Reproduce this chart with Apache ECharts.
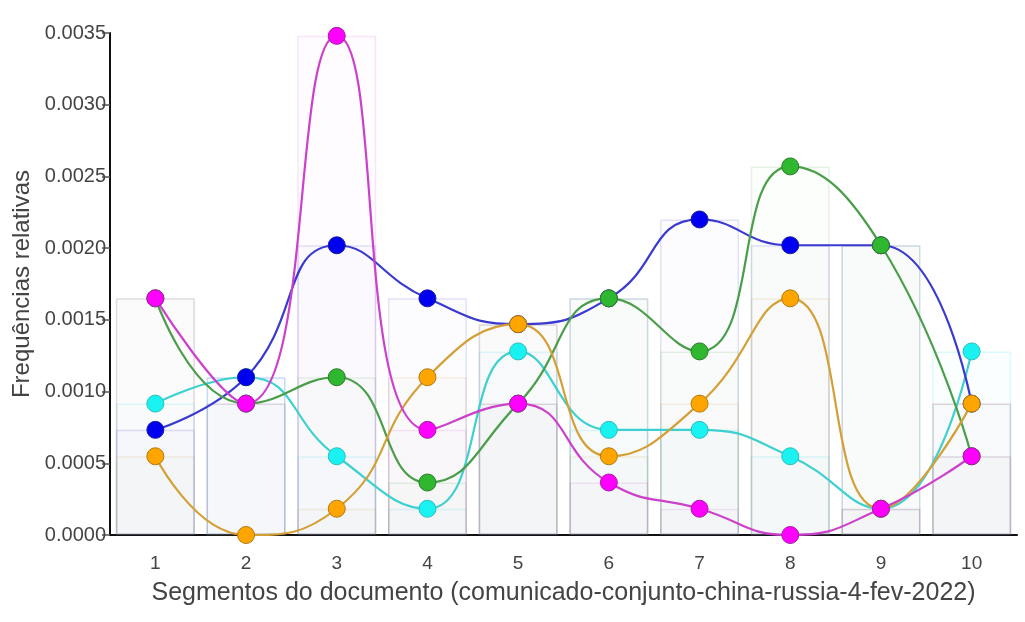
<!DOCTYPE html>
<html><head><meta charset="utf-8">
<script src="https://cdn.jsdelivr.net/npm/echarts@6/dist/echarts.min.js"></script>
<style>html,body{margin:0;padding:0;background:#fff}#c{width:1025px;height:622px}</style>
</head><body><div id="c"></div>
<script>
const categories = ['1','2','3','4','5','6','7','8','9','10'];
const cyanVals    = [0.000916,0.00110,0.000549,0.000183,0.00128,0.000733,0.000733,0.000549,0.000183,0.00128];
const blueVals    = [0.000733,0.00110,0.00202,0.00165,0.00147,0.00165,0.00220,0.00202,0.00202,0.000916];
const greenVals   = [0.00165,0.000916,0.00110,0.000366,0.000916,0.00165,0.00128,0.00257,0.00202,0.000549];
const orangeVals  = [0.000549,0,0.000183,0.00110,0.00147,0.000549,0.000916,0.00165,0.000183,0.000916];
const magentaVals = [0.00165,0.000916,0.00348,0.000733,0.000916,0.000366,0.000183,0,0.000183,0.000549];
const yTicks = [0,0.0005,0.001,0.0015,0.002,0.0025,0.003,0.0035];

const defs = [
  {name:'cyan', data:cyanVals, marker:'#1af2f2', border:'#2bbdbd', line:'#3cd0d0', rgb:'0,210,230'},
  {name:'blue', data:blueVals, marker:'#0000f0', border:'#1a1aa0', line:'#3a3ad0', rgb:'40,40,200'},
  {name:'green', data:greenVals, marker:'#2fb82f', border:'#2a7a2a', line:'#4a9e4a', rgb:'60,160,60'},
  {name:'orange', data:orangeVals, marker:'#ffa500', border:'#b07a10', line:'#d4a035', rgb:'200,140,40'},
  {name:'magenta', data:magentaVals, marker:'#ff00ff', border:'#a020a0', line:'#cc40cc', rgb:'200,60,210'}
];

const series = [];
defs.forEach(d => {
  series.push({
    type:'bar', name:d.name+'-bar', data:d.data, barWidth:79, barGap:'-100%', z:1, silent:true,
    itemStyle:{color:'rgba('+d.rgb+',0.015)', borderColor:'rgba('+d.rgb+',0.13)', borderWidth:1.5}
  });
});
defs.forEach((d,i) => {
  series.push({
    type:'line', name:d.name, data:d.data, smooth:0.5, z:3+i,
    symbol:'circle', symbolSize:17,
    lineStyle:{color:d.line, width:2.2},
    itemStyle:{color:d.marker, borderColor:d.border, borderWidth:1}
  });
});

const chart = echarts.init(document.getElementById('c'));
chart.setOption({
  animation:false,
  textStyle:{fontFamily:'Liberation Sans, Arial, sans-serif'},
  grid:{left:110, right:8, top:33, bottom:87},
  xAxis:{
    type:'category', data:categories, boundaryGap:true,
    name:'Segmentos do documento (comunicado-conjunto-china-russia-4-fev-2022)',
    nameLocation:'middle', nameGap:46,
    nameTextStyle:{fontSize:25, color:'#444'},
    axisLine:{lineStyle:{color:'#111', width:2}},
    axisTick:{alignWithLabel:true, length:9, lineStyle:{color:'#555', width:1.5}},
    axisLabel:{fontSize:19, color:'#444', margin:19}
  },
  yAxis:{
    type:'value', min:0, max:0.0035, interval:0.0005,
    name:'Frequências relativas', nameLocation:'middle', nameGap:76,
    nameTextStyle:{fontSize:24, color:'#444'},
    axisLine:{show:true, lineStyle:{color:'#111', width:2}},
    axisTick:{show:true, length:8, lineStyle:{color:'#555', width:1.5}},
    splitLine:{show:false},
    axisLabel:{fontSize:20, color:'#444', margin:4, formatter:v => v.toFixed(4)}
  },
  series:series
});
</script></body></html>
